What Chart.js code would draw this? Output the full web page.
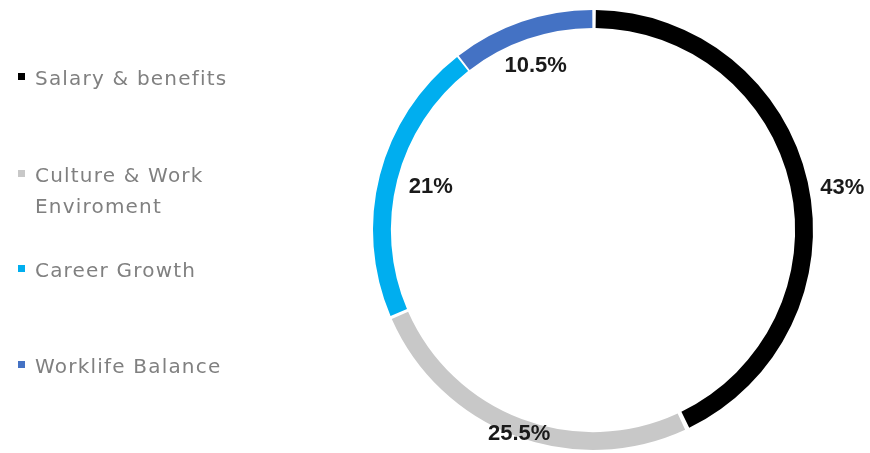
<!DOCTYPE html>
<html>
<head>
<meta charset="utf-8">
<script src="https://cdn.jsdelivr.net/npm/chart.js@4/dist/chart.umd.min.js"></script>
<style>
  html, body { margin: 0; padding: 0; background: #ffffff; }
  #wrap { width: 870px; height: 453px; position: relative; }
</style>
</head>
<body>
<div id="wrap"><canvas id="c" width="870" height="453"></canvas></div>
<script>
// ---- data ----
const categories = ['Salary & benefits', ['Culture & Work', 'Enviroment'], 'Career Growth', 'Worklife Balance'];
const shares = [43, 25.5, 21, 10.5];
const valueLabels = ['43%', '25.5%', '21%', '10.5%'];

// ---- styles ----
const sliceColors = ['#000000', '#c8c8c8', '#00aeef', '#4472c4'];
const labelRadius = [1.16, 0.995, 0.77, 0.795];   // relative to outer radius
const labelAngleShift = [3, -0.8, 0.6, -0.4];    // degrees

const legendPlugin = {
  id: 'sideLegend',
  afterDraw(chart) {
    const ctx = chart.ctx;
    const labels = chart.data.labels;
    const colors = chart.data.datasets[0].backgroundColor;
    const baselines = [85, 182, 277, 373];
    ctx.save();
    ctx.font = '20px "DejaVu Sans"';
    if ('letterSpacing' in ctx) ctx.letterSpacing = '1.2px';
    ctx.textBaseline = 'alphabetic';
    ctx.textAlign = 'left';
    labels.forEach((lab, i) => {
      const lines = Array.isArray(lab) ? lab : [lab];
      const b = baselines[i];
      ctx.fillStyle = colors[i];
      ctx.fillRect(18, b - 12, 7, 7);
      ctx.fillStyle = '#808080';
      lines.forEach((t, j) => ctx.fillText(t, 35, b + j * 31));
    });
    ctx.restore();
  }
};

const valuePlugin = {
  id: 'valueLabels',
  afterDatasetsDraw(chart) {
    const ctx = chart.ctx;
    const meta = chart.getDatasetMeta(0);
    ctx.save();
    ctx.font = 'bold 22px "Liberation Sans"';
    ctx.fillStyle = '#1a1a1a';
    ctx.textAlign = 'center';
    ctx.textBaseline = 'middle';
    meta.data.forEach((arc, i) => {
      const p = arc.getProps(['x', 'y', 'startAngle', 'endAngle', 'outerRadius'], true);
      const mid = (p.startAngle + p.endAngle) / 2 + labelAngleShift[i] * Math.PI / 180;
      const r = p.outerRadius * labelRadius[i];
      ctx.fillText(valueLabels[i], p.x + Math.cos(mid) * r, p.y + Math.sin(mid) * r);
    });
    ctx.restore();
  }
};

new Chart(document.getElementById('c'), {
  type: 'doughnut',
  data: {
    labels: categories,
    datasets: [{
      data: shares,
      backgroundColor: sliceColors,
      borderWidth: 0,
      spacing: 4
    }]
  },
  options: {
    responsive: false,
    animation: false,
    cutout: '91.8%',
    layout: { padding: { left: 330, right: 14, top: 10, bottom: 3 } },
    plugins: {
      legend: { display: false },
      tooltip: { enabled: false }
    }
  },
  plugins: [legendPlugin, valuePlugin]
});
</script>
</body>
</html>
